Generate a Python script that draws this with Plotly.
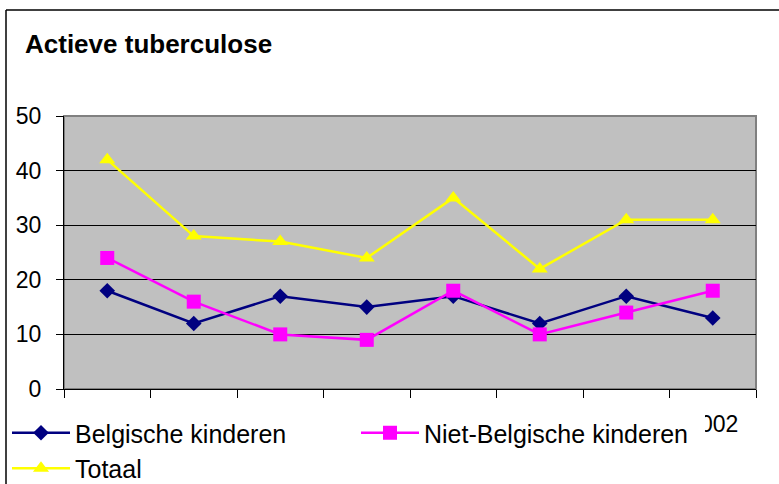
import plotly.graph_objects as go

# Chart data
years = ["1995", "1996", "1997", "1998", "1999", "2000", "2001", "2002"]
belgische = [18, 12, 17, 15, 17, 12, 17, 13]
niet_belgische = [24, 16, 10, 9, 18, 10, 14, 18]
totaal = [42, 28, 27, 24, 35, 22, 31, 31]
y_ticks = [0, 10, 20, 30, 40, 50]

W, H = 779, 484
L, R, T, B = 64, 23, 116, 95
PW, PH = W - L - R, H - T - B

def px_x(p):
    return (p - L) / PW

def px_y(p):
    return (H - B - p) / PH

FONT = "Liberation Sans, Arial, sans-serif"

fig = go.Figure()
fig.add_trace(go.Scatter(
    x=years, y=belgische, name="Belgische kinderen", mode="lines+markers",
    line=dict(color="#000080", width=2.5),
    marker=dict(symbol="diamond", size=12, color="#000080"),
))
fig.add_trace(go.Scatter(
    x=years, y=niet_belgische, name="Niet-Belgische kinderen", mode="lines+markers",
    line=dict(color="#FF00FF", width=2.5),
    marker=dict(symbol="square", size=14, color="#FF00FF"),
))
fig.add_trace(go.Scatter(
    x=years, y=totaal, name="Totaal", mode="lines+markers",
    line=dict(color="#FFFF00", width=2.5),
    marker=dict(symbol="triangle-up", size=14, color="#FFFF00"),
))

fig.update_layout(
    width=W, height=H,
    margin=dict(l=L, r=R, t=T, b=B, autoexpand=False),
    paper_bgcolor="white",
    plot_bgcolor="#C0C0C0",
    font=dict(family=FONT, size=23, color="black"),
    title=dict(
        text="<b>Actieve tuberculose</b>",
        font=dict(family=FONT, size=26, color="black"),
        xref="container", yref="container",
        x=25 / W, xanchor="left", y=1 - 44 / H, yanchor="middle",
    ),
    showlegend=True,
    legend=dict(
        orientation="h",
        x=px_x(7), xanchor="left",
        y=px_y(410), yanchor="top",
        bgcolor="white",
        font=dict(family=FONT, size=25, color="black"),
        itemwidth=58,
        entrywidth=276,
        entrywidthmode="pixels",
        traceorder="normal",
        itemclick=False,
    ),
    xaxis=dict(
        type="category",
        range=[-0.5, len(years) - 0.5],
        showgrid=False,
        showline=True, linecolor="black", linewidth=1,
        ticks="outside", ticklen=8, tickcolor="black",
        tickson="boundaries",
        ticklabelstandoff=14,
        tickfont=dict(family=FONT, size=23, color="black"),
        zeroline=False,
    ),
    yaxis=dict(
        range=[0, 50],
        tickvals=y_ticks,
        showgrid=True, gridcolor="black", gridwidth=1,
        showline=True, linecolor="black", linewidth=1,
        ticks="outside", ticklen=7, tickcolor="black",
        ticklabelstandoff=10,
        tickfont=dict(family=FONT, size=23, color="black"),
        zeroline=False,
    ),
    shapes=[
        # gray frame around plotting area
        dict(type="rect", xref="paper", yref="paper", x0=0, x1=1, y0=0, y1=1,
             line=dict(color="#808080", width=2), layer="below"),
        # outer chart border (top and left edges)
        dict(type="line", xref="paper", yref="paper",
             x0=px_x(6), x1=px_x(W + 5), y0=px_y(10), y1=px_y(10),
             line=dict(color="black", width=1.5)),
        dict(type="line", xref="paper", yref="paper",
             x0=px_x(6), x1=px_x(6), y0=px_y(10), y1=px_y(H + 5),
             line=dict(color="black", width=1.5)),
    ],
)

fig.write_html("out.html")
